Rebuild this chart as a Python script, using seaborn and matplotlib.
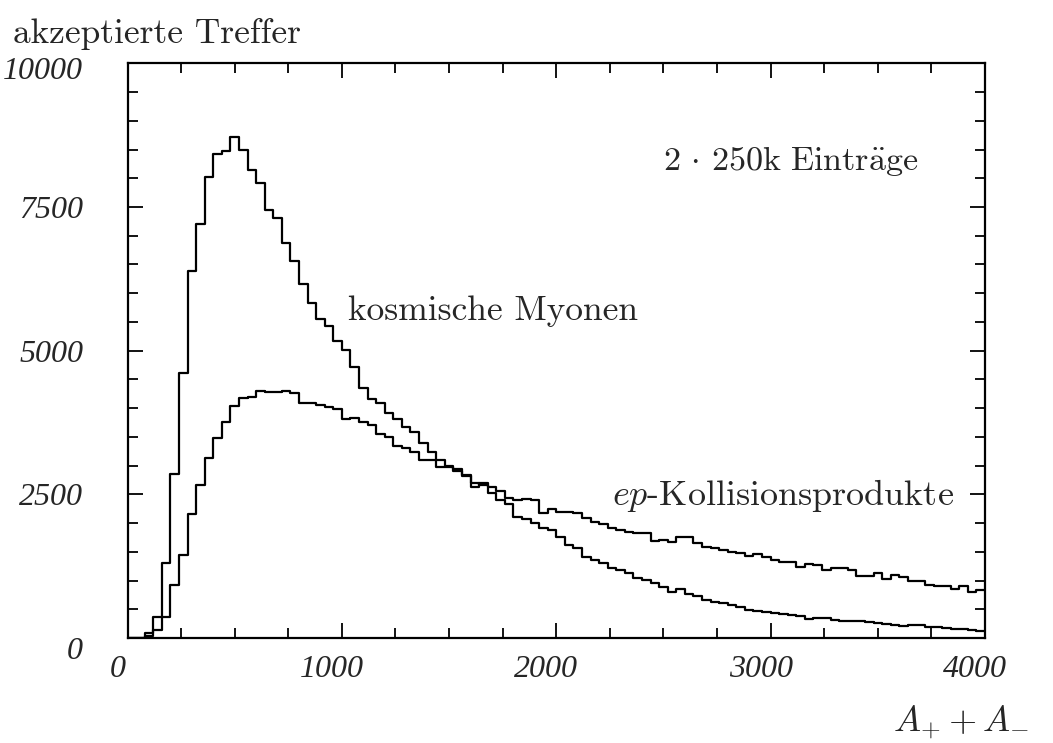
import numpy as np
import pandas as pd
import matplotlib
matplotlib.use("Agg")
import matplotlib.pyplot as plt
import matplotlib.transforms as mtransforms
from matplotlib.ticker import MultipleLocator
import seaborn as sns

# ---- data (bin contents, 100 bins of width 40 from 0 to 4000) ----
bin_width = 40
x_min, x_max = 0, 4000

cosmic_counts = [
    0, 0, 90, 371, 1311, 2854, 4605, 6386, 7204, 8028,
    8422, 8480, 8712, 8491, 8143, 7911, 7447, 7314, 6867, 6566,
    6160, 5835, 5551, 5429, 5174, 5011, 4710, 4356, 4153, 4084,
    3921, 3805, 3666, 3590, 3399, 3242, 3097, 2993, 2935, 2831,
    2703, 2660, 2517, 2401, 2332, 2111, 2065, 2007, 1908, 1879,
    1751, 1618, 1560, 1415, 1357, 1299, 1212, 1183, 1137, 1038,
    1009, 963, 880, 806, 850, 766, 731, 661, 632, 603,
    574, 545, 487, 470, 458, 429, 415, 400, 385, 325,
    342, 342, 320, 302, 302, 290, 280, 255, 250, 230,
    210, 220, 230, 200, 197, 180, 165, 150, 139, 128,
]

ep_counts = [
    0, 0, 30, 139, 371, 922, 1444, 2158, 2662, 3138,
    3474, 3764, 4037, 4170, 4199, 4304, 4286, 4286, 4304, 4269,
    4095, 4083, 4054, 4014, 3979, 3805, 3822, 3764, 3706, 3550,
    3503, 3341, 3300, 3242, 3097, 3097, 2981, 2970, 2911, 2819,
    2622, 2700, 2634, 2560, 2442, 2400, 2420, 2400, 2169, 2239,
    2200, 2200, 2169, 2082, 2024, 1984, 1908, 1879, 1839, 1821,
    1821, 1690, 1705, 1676, 1763, 1750, 1647, 1589, 1570, 1531,
    1502, 1473, 1427, 1462, 1415, 1357, 1328, 1316, 1241, 1288,
    1270, 1183, 1212, 1212, 1183, 1079, 1079, 1125, 1021, 1096,
    1060, 998, 990, 922, 910, 900, 847, 900, 800, 830,
]

x_ticks = [0, 1000, 2000, 3000, 4000]
y_ticks = [0, 2500, 5000, 7500, 10000]

# ---- style ----
sns.set_theme(style="white")
plt.rcParams["font.family"] = ["cmr10", "DejaVu Serif"]
plt.rcParams["mathtext.fontset"] = "cm"
plt.rcParams["axes.formatter.use_mathtext"] = True

fig = plt.figure(figsize=(10.53, 7.43), dpi=100)
ax = fig.add_axes([0.1211, 0.1413, 0.8143, 0.7735])

n_bins = len(cosmic_counts)
centers = x_min + bin_width * (np.arange(n_bins) + 0.5)

for counts in (cosmic_counts, ep_counts):
    df = pd.DataFrame({"x": centers, "w": np.asarray(counts, dtype=float)})
    sns.histplot(data=df, x="x", weights="w", bins=n_bins,
                 binrange=(x_min, x_max), element="step",
                 fill=False, color="black", linewidth=1.6, ax=ax)

ax.set_xlim(x_min, x_max)
ax.set_ylim(0, 10000)
ax.set_xlabel("")
ax.set_ylabel("")

for s in ax.spines.values():
    s.set_visible(True)
    s.set_color("black")
    s.set_linewidth(1.6)

ax.set_xticks(x_ticks)
ax.set_yticks(y_ticks)
ax.xaxis.set_minor_locator(MultipleLocator(250))
ax.yaxis.set_minor_locator(MultipleLocator(500))
ax.tick_params(which="both", direction="in", top=True, right=True,
               bottom=True, left=True, color="black", width=1.3)
ax.tick_params(which="major", length=11)
ax.tick_params(which="minor", length=7)
ax.tick_params(axis="x", which="major", pad=12)
ax.tick_params(axis="y", which="major", pad=32)

tick_font = dict(family=["Liberation Serif", "DejaVu Serif"], style="italic", size=23)
ax.set_xticklabels([str(t) for t in x_ticks], **tick_font)
ax.set_yticklabels([str(t) for t in y_ticks], **tick_font)
x_off = mtransforms.ScaledTranslation(-10 / 100, 0, fig.dpi_scale_trans)
for lab in ax.get_xticklabels():
    lab.set_transform(lab.get_transform() + x_off)
ylabs = ax.get_yticklabels()
ylabs[0].set_transform(ylabs[0].get_transform()
                       + mtransforms.ScaledTranslation(0, -10 / 100, fig.dpi_scale_trans))
ylabs[-1].set_transform(ylabs[-1].get_transform()
                        + mtransforms.ScaledTranslation(0, -5 / 100, fig.dpi_scale_trans))

text_fs = 25.5
ax.text(2500, 8150, r"$2\,\cdot\,250\mathrm{k\ Eintr}\ddot{\mathrm{a}}\mathrm{ge}$",
        fontsize=24.5, ha="left", va="baseline")
ax.text(1030, 5530, "kosmische Myonen", fontsize=text_fs, ha="left", va="baseline")
ax.text(2260, 2310, r"$ep$-Kollisionsprodukte", fontsize=26, ha="left", va="baseline")

fig.text(0.0123, 0.942, "akzeptierte Treffer", fontsize=text_fs, ha="left", va="baseline")
fig.text(0.848, 0.0175, r"$A_{+}+A_{-}$", fontsize=26, ha="left", va="baseline")

fig.savefig("out.png", dpi=100, facecolor="white")
